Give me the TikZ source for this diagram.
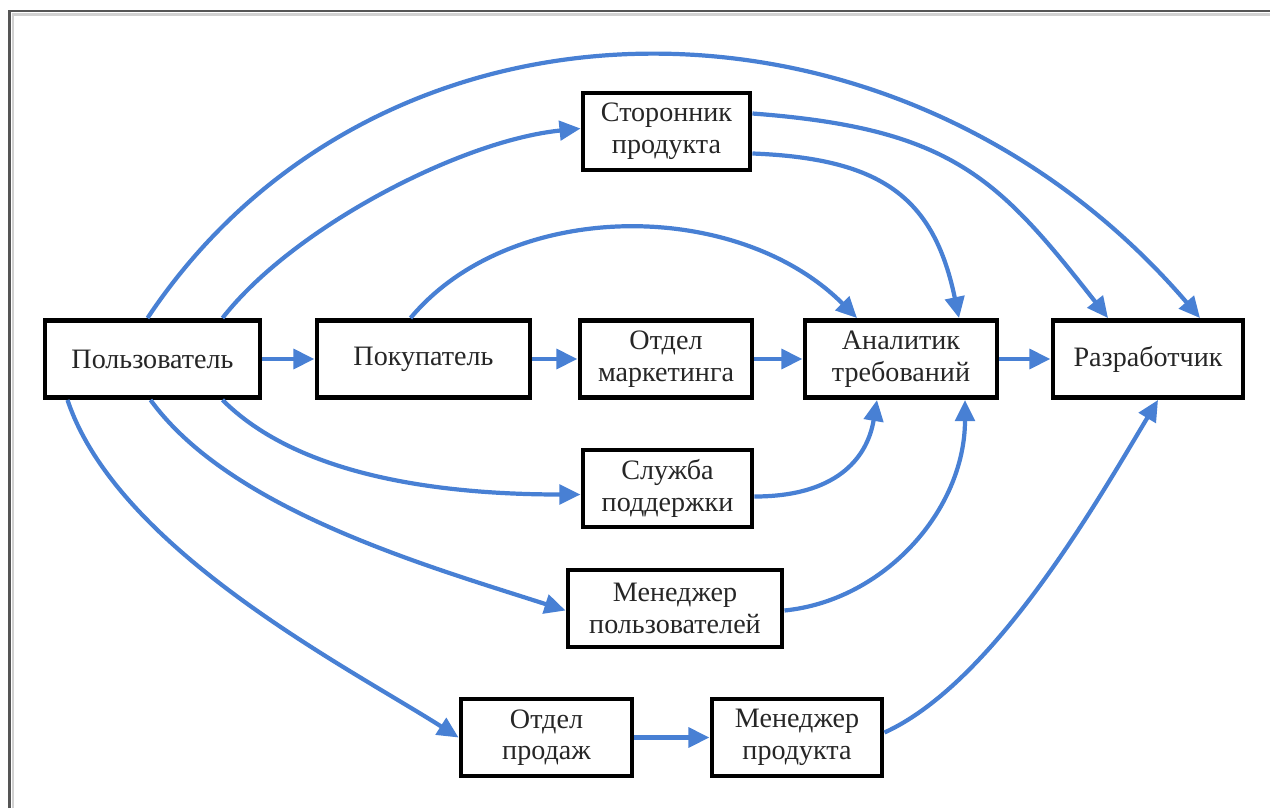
\documentclass[tikz,border=0pt]{standalone}
\usepackage{fontspec}
\setmainfont{Liberation Serif}
\usetikzlibrary{arrows.meta}
\definecolor{flowblue}{RGB}{72,128,212}
\definecolor{framegray}{RGB}{85,85,85}
\begin{document}
\begin{tikzpicture}[x=0.02cm,y=-0.02cm,
  role/.style={draw=black, line width=2.8pt, fill=white, align=center,
    inner sep=0pt, minimum height=1.54cm,
    font=\fontsize{16}{18}\selectfont, text=black!85},
  flow/.style={draw=flowblue, line width=2.4pt,
    -{Triangle[length=12pt,width=11pt]}},
  flowstraight/.style={flow, line width=2.8pt},
]
\useasboundingbox (0,0) rectangle (1270,808);

% page frame
\draw[black!18, line width=1.2pt] (13,808) -- (13,14.5) -- (1270,14.5);
\draw[framegray, line width=1.7pt] (9.5,808) -- (9.5,11) -- (1270,11);

% roles
\node[role, minimum width=4.30cm] (user)    at (152.5,359) {Пользователь};
\node[role, minimum width=4.26cm] (buyer)   at (423.5,359) {Покупатель};
\node[role, minimum width=3.44cm] (mkt)     at (666,359)   {Отдел\\маркетинга};
\node[role, minimum width=3.84cm] (analyst) at (901,359)   {Аналитик\\требований};
\node[role, minimum width=3.80cm] (dev)     at (1148,359)  {Разработчик};
\node[role, minimum width=3.34cm] (sup)     at (666.5,131.5) {Сторонник\\продукта};
\node[role, minimum width=3.38cm] (support) at (667.5,488.5) {Служба\\поддержки};
\node[role, minimum width=4.28cm] (umgr)    at (675,608.5) {Менеджер\\пользователей};
\node[role, minimum width=3.42cm] (sales)   at (546.5,737.5) {Отдел\\продаж};
\node[role, minimum width=3.40cm] (pmgr)    at (797,737.5) {Менеджер\\продукта};

% straight links
\draw[flowstraight] (user.east)    -- (buyer.west);
\draw[flowstraight] (buyer.east)   -- (mkt.west);
\draw[flowstraight] (mkt.east)     -- (analyst.west);
\draw[flowstraight] (analyst.east) -- (dev.west);
\draw[flowstraight] (sales.east)   -- (pmgr.west);

% curved links above the main row
\draw[flow] ([shift={(-5,0)}]user.north)
  .. controls +(233,-350) and +(-300,-350) .. ([shift={(52,0)}]dev.north);
\draw[flow] ([shift={(70,0)}]user.north)
  .. controls +(70,-90) and +(-120,12) .. ([shift={(0,-3)}]sup.west);
\draw[flow] ([shift={(0,-18)}]sup.east)
  .. controls +(200,15) and +(-110,-140) .. ([shift={(-40,0)}]dev.north);
\draw[flow] ([shift={(0,22)}]sup.east)
  .. controls +(130,5) and +(-25,-120) .. ([shift={(58,0)}]analyst.north);
\draw[flow] ([shift={(-13,0)}]buyer.north)
  .. controls +(100,-120) and +(-120,-120) .. ([shift={(-44,0)}]analyst.north);

% curved links below the main row
\draw[flow] ([shift={(70,0)}]user.south)
  .. controls +(70,70) and +(-160,0) .. ([shift={(0,6)}]support.west);
\draw[flow] ([shift={(0,8)}]support.east)
  .. controls +(80,0) and +(-10,60) .. ([shift={(-24,0)}]analyst.south);
\draw[flow] ([shift={(-2,0)}]user.south)
  .. controls +(80,110) and +(-140,-45) .. ([shift={(0,2)}]umgr.west);
\draw[flow] ([shift={(0,2)}]umgr.east)
  .. controls +(100,-10) and +(0,110) .. ([shift={(64,0)}]analyst.south);
\draw[flow] ([shift={(-85,0)}]user.south)
  .. controls +(50,150) and +(-110,-70) .. (sales.west);
\draw[flow] ([shift={(0,-5)}]pmgr.east)
  .. controls +(110,-50) and +(-60,100) .. ([shift={(10,0)}]dev.south);
\end{tikzpicture}
\end{document}
